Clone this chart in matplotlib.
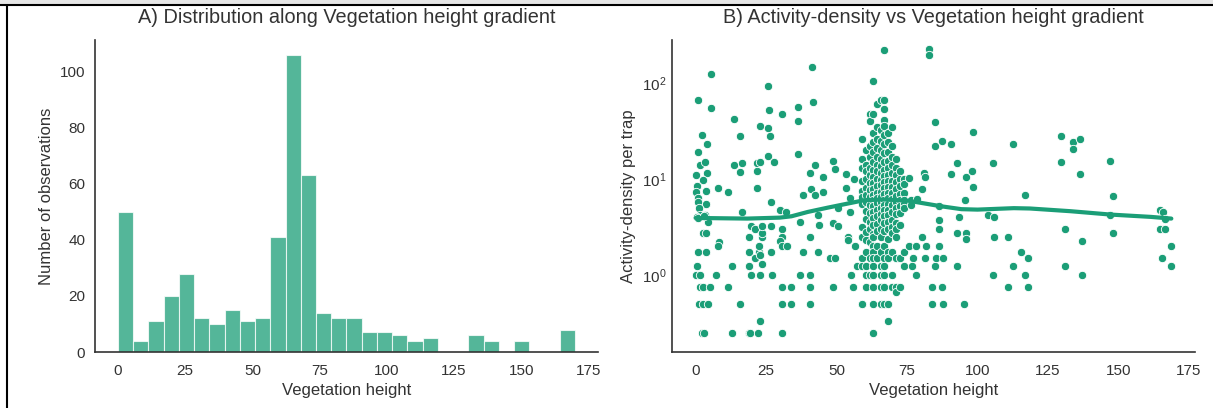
import matplotlib
matplotlib.use("Agg")
import matplotlib.pyplot as plt
import numpy as np
import seaborn as sns
from matplotlib.lines import Line2D
from matplotlib.patches import Rectangle

sns.set_style("white")
plt.rcParams["font.family"] = ["Liberation Sans", "DejaVu Sans"]
plt.rcParams["mathtext.fontset"] = "custom"
plt.rcParams["mathtext.rm"] = "Liberation Sans"
plt.rcParams["mathtext.it"] = "Liberation Sans:italic"

green = "#1b9e77"

# --- panel A: histogram counts (30 bins over 0-170) ---
bin_lo, bin_hi = 0, 170
hist_counts = [50, 4, 11, 20, 28, 12, 10, 15, 11, 12,
               41, 106, 63, 14, 12, 12, 7, 7, 6, 4,
               5, 0, 0, 6, 4, 0, 4, 0, 0, 8]

# --- panel B: scatter points (vegetation height, activity-density) ---
scatter_x = [
    0.9, 5.4, 5.4, 2.1, 4.0, 0.9, 1.4, 3.3, 0.1, 4.0, 2.6, 0.4, 3.6, 0.0, 0.9,
    3.6, 0.9, 1.1, 1.6, 3.3, 4.4, 2.6, 3.6, 0.7, 3.6, 0.6, 0.0, 1.6, 1.4, 2.6,
    5.2, 1.1, 2.6, 4.4, 2.1, 3.0, 0.3, 1.0, 2.8,
    8.0, 7.2, 8.3, 8.0, 11.5, 13.5, 13.5, 12.8, 11.5, 12.8, 15.9, 16.6, 15.9,
    16.3, 15.6, 18.8, 19.4, 22.2, 19.0, 19.0, 19.0, 19.8, 21.2, 19.8, 23.0,
    21.2, 22.3, 22.3, 23.4, 23.4, 23.6, 23.0, 23.6, 23.0, 21.9, 21.9, 21.9,
    23.0, 23.0, 25.8, 26.2, 25.8, 26.5, 25.8, 27.9, 26.9, 26.9, 26.9, 27.2,
    29.8, 30.8, 30.5, 30.8, 29.8, 30.5, 32.4, 32.0, 30.5, 34.0, 30.5, 34.0,
    30.5, 36.2, 36.2, 36.2, 37.0, 38.0, 37.2, 38.0, 40.5, 40.5, 40.5, 41.3,
    41.5, 40.5, 42.3, 40.8, 42.4, 40.5, 43.4, 43.8, 43.4, 45.1, 45.1, 47.7,
    49.6, 48.9, 49.6, 48.7, 48.7, 50.6, 50.6, 53.2, 53.9, 53.9, 53.2, 54.9,
    55.3, 55.9, 56.3, 54.9, 56.6, 57.3, 58.9, 58.9,
    # dense cluster, column by column
    59.2, 59.2, 59.2, 59.2, 59.2, 59.2, 59.2, 59.2, 59.2, 59.2, 59.2, 59.2,
    60.6, 60.6, 60.6, 60.6, 60.6, 60.6, 60.6, 60.6, 60.6, 60.6, 60.6, 60.6,
    60.6, 60.6, 60.6,
    62.0, 62.0, 62.0, 62.0, 62.0, 62.0, 62.0, 62.0, 62.0, 62.0, 62.0, 62.0,
    62.0, 62.0, 62.0, 62.0,
    63.0, 63.0, 63.0, 63.0, 63.0, 63.0, 63.0, 63.0, 63.0, 63.0, 63.0, 63.0,
    63.0, 63.0, 63.0, 63.0, 63.0, 63.0, 63.0, 63.0, 63.0, 63.0, 63.0, 63.0,
    63.0, 63.0,
    64.2, 64.2, 64.2, 64.2, 64.2, 64.2, 64.2, 64.2, 64.2, 64.2, 64.2, 64.2,
    64.2, 64.2, 64.2, 64.2, 64.2, 64.2,
    65.6, 65.6, 65.6, 65.6, 65.6, 65.6, 65.6, 65.6, 65.6, 65.6, 65.6, 65.6,
    65.6, 65.6, 65.6, 65.6, 65.6, 65.6, 65.6, 65.6, 65.6, 65.6,
    67.0, 67.0, 67.0, 67.0, 67.0, 67.0, 67.0, 67.0, 67.0, 67.0, 67.0, 67.0,
    67.0, 67.0, 67.0, 67.0, 67.0, 67.0, 67.0, 67.0, 67.0, 67.0, 67.0, 67.0,
    67.0, 67.0,
    68.2, 68.2, 68.2, 68.2, 68.2, 68.2, 68.2, 68.2, 68.2, 68.2, 68.2, 68.2,
    68.2, 68.2, 68.2, 68.2, 68.2, 68.2, 68.2, 68.2,
    69.5, 69.5, 69.5, 69.5, 69.5, 69.5, 69.5, 69.5, 69.5, 69.5, 69.5, 69.5,
    69.5, 69.5, 69.5, 69.5, 69.5,
    71.1, 71.1, 71.1, 71.1, 71.1, 71.1, 71.1, 71.1, 71.1, 71.1, 71.1, 71.1,
    71.1, 71.1, 71.1,
    72.5, 72.5, 72.5, 72.5, 72.5, 72.5, 72.5, 72.5, 72.5, 72.5,
    73.9, 73.9, 73.9, 73.9, 73.9, 73.9, 73.9, 73.9,
    # right of the cluster
    75.8, 76.5, 76.5, 75.6, 77.0, 76.8,
    78.2, 78.2, 78.5, 80.2, 81.1, 81.4, 80.2, 81.4, 81.8, 82.8, 82.8, 84.0,
    84.0, 85.1, 85.1, 85.1, 85.4, 86.5, 86.5, 86.5, 86.5, 87.4, 87.4, 87.7,
    87.7, 90.7, 90.7, 92.8, 92.8, 93.6, 92.8, 95.4, 95.7, 96.0, 96.0, 96.0,
    98.1, 98.3, 98.3, 103.9, 106.0, 105.4, 105.7, 105.4, 110.7, 110.7, 112.5,
    112.5, 115.3, 116.9, 117.9, 116.9, 117.9, 129.8, 129.8, 131.2, 131.2,
    134.0, 134.0, 136.5, 136.5, 137.0, 137.0, 147.0, 148.0, 147.0, 148.0,
    164.8, 165.9, 164.8, 166.6, 166.6, 165.6, 168.8, 168.8,
]
scatter_y = [
    66, 123, 55, 29, 23, 19, 14, 15, 11, 11.6, 9.8, 8.5, 7.5, 7.4, 6.4,
    5.5, 5.8, 5.0, 4.2, 4.2, 3.6, 2.75, 2.75, 1.75, 1.75, 1.25, 1.0, 1.0, 0.75, 0.75,
    0.75, 0.5, 0.5, 0.5, 0.25, 0.25, 4.0, 3.9, 4.1,
    8.1, 1.0, 2.2, 2.0, 7.4, 42, 14, 1.25, 0.75, 0.25, 28, 14.8, 11.7,
    4.5, 0.5, 0.25, 0.25, 0.25, 1.25, 1.75, 2.5, 3.25, 3.05, 1.0, 1.0,
    1.5, 1.75, 2.0, 2.5, 2.75, 3.25, 1.6, 1.3, 0.33, 8.1, 12.1, 14.5,
    36, 15, 94, 52, 34, 28, 17.5, 15, 5.8, 3.25, 1.75, 1.0,
    4.8, 47.5, 3.05, 2.5, 2.25, 2.0, 2.0, 4.5, 0.75, 0.75, 0.5, 0.5,
    0.25, 56, 40.5, 18.3, 3.6, 6.8, 1.0, 1.75, 1.0, 0.75, 0.5, 145,
    63, 11.6, 14, 7.9, 6.8, 2.5, 4.2, 3.3, 1.75, 7.4, 10.4, 1.5,
    1.5, 15.5, 12.6, 0.75, 3.5, 3.25, 5.0, 11.2, 2.5, 2.3, 8.0, 6.3,
    1.0, 0.75, 10.0, 4.5, 2.0, 1.25, 1.5, 0.5,
    # dense cluster
    26, 16, 13, 9.5, 7.5, 6.5, 5.5, 3.2, 2.5, 1.5, 1.25, 0.5,
    20, 14, 12, 10, 8, 6.8, 5.8, 4.6, 3.8, 2.8, 2.3, 1.75,
    1.25, 1.0, 0.75,
    48, 40, 22, 17, 13, 11, 9, 7.6, 6.5, 5.3, 4.4, 3.6,
    3.0, 2.2, 1.5, 1.0,
    105, 47, 30, 24, 19, 15, 12.5, 10.5, 9, 7.8, 6.8, 6,
    5.2, 4.5, 3.9, 3.3, 2.7, 2.5, 2.0, 1.75, 1.5, 1.25, 1.0, 0.75,
    0.5, 0.25,
    61, 35, 26, 21, 17, 14, 12, 10, 8.5, 7.2, 6.3, 5.6,
    4.8, 4.1, 3.4, 2.9, 2.0, 1.5,
    66, 32, 25, 20, 16, 13.5, 11.5, 9.8, 8.6, 7.4, 6.5, 5.8,
    5.0, 4.3, 3.7, 3.0, 2.5, 1.75, 1.25, 1.0, 0.75, 0.5,
    220, 66, 54, 41, 36, 29, 23, 18.5, 15, 12.5, 10.8, 9.2,
    8, 7, 6.1, 5.4, 4.7, 4.1, 3.5, 2.9, 2.0, 1.5, 1.25, 1.0,
    0.75, 0.5,
    30, 24, 19, 15.5, 13, 11, 9.5, 8.2, 7.2, 6.3, 5.5, 4.8,
    4.2, 3.6, 3.0, 2.4, 1.75, 1.5, 0.5, 0.33,
    35, 22, 17, 14, 11.5, 9.6, 8.3, 7.1, 6.2, 5.4, 4.5, 3.7,
    3.2, 2.75, 1.75, 1.0, 0.75,
    16, 13, 11, 9.2, 7.8, 6.6, 5.7, 5.0, 4.3, 3.5, 3.0, 2.5,
    1.5, 0.75, 0.66,
    12, 10, 8.4, 7.0, 6.0, 5.2, 4.4, 3.3, 1.5, 0.75,
    10, 8.8, 7.2, 6.1, 5.5, 5.0, 1.75, 1.25,
    # right of the cluster
    10.2, 6.0, 5.4, 2.0, 1.5, 1.25,
    2.0, 1.0, 6.2, 7.8, 11.6, 10.6, 2.5, 1.5, 2.0, 225, 195, 0.75,
    0.5, 39, 22, 1.25, 1.5, 3.7, 3.0, 2.0, 5.2, 25, 0.75, 1.5,
    0.5, 23, 11.4, 14.8, 1.25, 4.0, 2.75, 0.5, 6.0, 10.6, 2.75, 2.35,
    12.2, 8.3, 31, 4.25, 4.0, 14.6, 2.5, 1.0, 2.5, 0.75, 23,
    1.25, 1.75, 6.8, 1.5, 1.0, 0.75, 28, 15, 3.0, 1.25,
    24, 20.5, 26, 11.2, 2.25, 1.0, 15.5, 6.6, 4.25, 2.75,
    4.8, 4.5, 3.0, 3.0, 3.8, 1.5, 2.0, 1.25,
]

# smoothed trend
trend_x = [0, 18.3, 29.8, 34, 39.8, 47, 54, 59.9, 67, 75.6, 81.4, 87.1,
           94.3, 100, 112.9, 118.6, 133, 147.3, 161.6, 168.8]
trend_y = [3.93, 3.87, 3.96, 4.09, 4.54, 5.04, 5.55, 6.02, 6.12, 5.93, 5.55,
           5.2, 4.85, 4.8, 4.97, 4.93, 4.62, 4.26, 4.03, 3.87]

fig = plt.figure(figsize=(12.13, 4.08), dpi=100)
W, H = 1213, 408
ax1 = fig.add_axes([95 / W, (H - 352) / H, 503 / W, 312 / H])
ax2 = fig.add_axes([672 / W, (H - 352) / H, 523 / W, 312 / H])

txt = "#333333"

# Panel A
edges = np.linspace(bin_lo, bin_hi, len(hist_counts) + 1)
ax1.bar(edges[:-1], hist_counts, width=np.diff(edges), align="edge",
        color=green, alpha=0.75, edgecolor="white", linewidth=0.8)
ax1.set_xlim(-8.5, 178.5)
ax1.set_ylim(0, 111.3)
ax1.set_xticks([0, 25, 50, 75, 100, 125, 150, 175])
ax1.set_yticks([0, 20, 40, 60, 80, 100])
ax1.set_xlabel("Vegetation height", fontsize=12, color=txt)
ax1.set_ylabel("Number of observations", fontsize=12, color=txt)
ax1.set_title("A) Distribution along Vegetation height gradient",
              fontsize=14.3, pad=12, color=txt)

# Panel B
ax2.scatter(scatter_x, scatter_y, s=36, color=green, edgecolor="white",
            linewidth=0.6, zorder=2)
ax2.plot(trend_x, trend_y, color=green, linewidth=3, zorder=3)
ax2.set_yscale("log")
ax2.set_xlim(-8.4, 177.2)
ax2.set_ylim(0.158, 280)
ax2.set_xticks([0, 25, 50, 75, 100, 125, 150, 175])
ax2.set_xlabel("Vegetation height", fontsize=12, color=txt)
ax2.set_ylabel("Activity-density per trap", fontsize=12, color=txt)
ax2.set_title("B) Activity-density vs Vegetation height gradient",
              fontsize=14.3, pad=12, color=txt)

for ax in (ax1, ax2):
    sns.despine(ax=ax)
    ax.tick_params(which="both", labelsize=11, length=0, colors=txt)
    ax.tick_params(axis="x", pad=8.5)
    for s in ("left", "bottom"):
        ax.spines[s].set_color(txt)
        ax.spines[s].set_linewidth(1.2)
ax1.tick_params(axis="y", pad=7)
ax2.tick_params(axis="y", which="both", pad=4)

# document frame around the figure (cropped screenshot look)
fig.patches.append(Rectangle((0, 1 - 4 / H), 1, 4 / H, transform=fig.transFigure,
                             facecolor="#e6e6e6", edgecolor="none"))
fig.lines.append(Line2D([0, 1], [1 - 4.5 / H] * 2, transform=fig.transFigure,
                        color="black", linewidth=1.5))
fig.lines.append(Line2D([7 / W] * 2, [0, 1 - 4.5 / H], transform=fig.transFigure,
                        color="black", linewidth=1.5))

fig.savefig("out.png", dpi=100)
